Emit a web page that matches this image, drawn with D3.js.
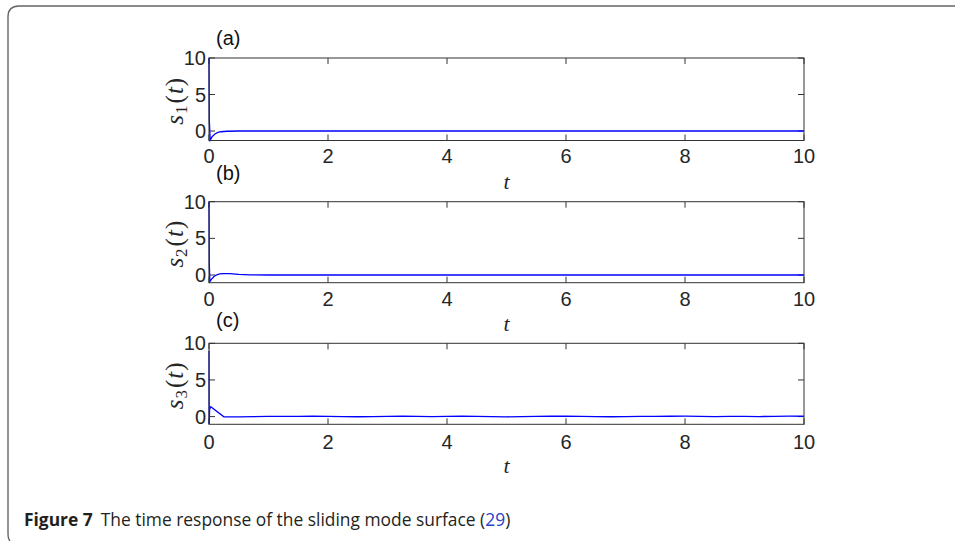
<!DOCTYPE html>
<html>
<head>
<meta charset="utf-8">
<script src="https://cdn.jsdelivr.net/npm/d3@7.9.0/dist/d3.min.js"></script>
<style>
  body { margin: 0; background: #fff; }
  svg { display: block; }
</style>
</head>
<body>
<div id="chart"></div>
<script>
// values
const xTicks = [0, 2, 4, 6, 8, 10];
const yTicks = [0, 5, 10];

const s1Time = [0, 0.005, 0.02, 0.05, 0.1, 0.15, 0.2, 0.3, 0.5, 10];
const s1Value = [10, 1.5, -1.25, -0.8, -0.4, -0.2, -0.1, -0.03, 0, 0];

const s2Time = [0, 0.005, 0.015, 0.04, 0.08, 0.12, 0.18, 0.25, 0.35, 0.5, 0.7, 1, 10];
const s2Value = [10, 1.5, -0.9, -0.6, -0.25, 0, 0.14, 0.19, 0.18, 0.08, 0.02, 0, 0];

const s3Time = [0, 0.003, 0.01, 0.03, 0.25, 0.5, 0.75, 1, 1.25, 1.5, 1.75, 2, 2.25, 2.5, 2.75,
  3, 3.25, 3.5, 3.75, 4, 4.25, 4.5, 4.75, 5, 5.25, 5.5, 5.75, 6, 6.25, 6.5, 6.75,
  7, 7.25, 7.5, 7.75, 8, 8.25, 8.5, 8.75, 9, 9.25, 9.5, 9.75, 10];
const s3Value = [9, -1, 1.0, 1.35, -0.02, -0.04, -0.01, 0.02, 0.04, 0.03, 0.06, 0.04, 0.01, -0.02, 0.01,
  0.03, 0.05, 0.02, 0, 0.03, 0.05, 0.02, -0.01, -0.03, 0, 0.03, 0.05, 0.07, 0.04, 0.01, -0.02,
  0, 0.03, 0.02, 0.05, 0.06, 0.03, 0, 0.02, 0.04, 0.01, 0.03, 0.06, 0.05];

const panels = [
  { tag: '(a)', sub: '1', time: s1Time, value: s1Value, top: 58, bottom: 140.5, ymin: -1.3, tagY: 45, tickY: 163, tY: 189 },
  { tag: '(b)', sub: '2', time: s2Time, value: s2Value, top: 201.7, bottom: 282.7, ymin: -1.05, tagY: 180, tickY: 306, tY: 331 },
  { tag: '(c)', sub: '3', time: s3Time, value: s3Value, top: 343.3, bottom: 424.3, ymin: -1.05, tagY: 327, tickY: 449, tY: 473 }
];

const width = 955;
const height = 541;
const axisColor = '#333';

const svg = d3.select('#chart').append('svg')
  .attr('width', width)
  .attr('height', height);

// page frame (rounded box that runs off the right and bottom)
svg.append('path')
  .attr('d', 'M10,541 Q8,539 8,533 L8,17 Q8,6 19,6 L955,6')
  .attr('fill', 'none')
  .attr('stroke', '#666')
  .attr('stroke-width', 1.4);

const xScale = d3.scaleLinear().domain([0, 10]).range([209, 804]);

panels.forEach(p => drawPanel(p));

function drawPanel(p) {
  const yScale = d3.scaleLinear().domain([p.ymin, 10]).range([p.bottom, p.top]);
  const g = svg.append('g');

  // inward ticks on all four sides
  g.selectAll('.xt').data(xTicks).enter().append('line')
    .attr('x1', d => xScale(d)).attr('x2', d => xScale(d))
    .attr('y1', p.bottom).attr('y2', p.bottom - 6)
    .attr('stroke', axisColor);
  g.selectAll('.xtt').data(xTicks).enter().append('line')
    .attr('x1', d => xScale(d)).attr('x2', d => xScale(d))
    .attr('y1', p.top).attr('y2', p.top + 6)
    .attr('stroke', axisColor);
  g.selectAll('.yt').data(yTicks).enter().append('line')
    .attr('x1', xScale(0)).attr('x2', xScale(0) + 6)
    .attr('y1', d => yScale(d)).attr('y2', d => yScale(d))
    .attr('stroke', axisColor);
  g.selectAll('.ytr').data(yTicks).enter().append('line')
    .attr('x1', xScale(10)).attr('x2', xScale(10) - 6)
    .attr('y1', d => yScale(d)).attr('y2', d => yScale(d))
    .attr('stroke', axisColor);

  // the curve
  const line = d3.line()
    .x((d, i) => xScale(p.time[i]))
    .y(d => yScale(d));

  g.append('path')
    .datum(p.value)
    .attr('d', line)
    .attr('fill', 'none')
    .attr('stroke', '#0000ff')
    .attr('stroke-width', 1.3);

  // box
  g.append('rect')
    .attr('x', xScale(0)).attr('y', p.top)
    .attr('width', xScale(10) - xScale(0))
    .attr('height', p.bottom - p.top)
    .attr('fill', 'none')
    .attr('stroke', axisColor)
    .attr('stroke-width', 1);

  // tick labels
  g.selectAll('.xl').data(xTicks).enter().append('text')
    .attr('x', d => xScale(d))
    .attr('y', p.tickY)
    .attr('text-anchor', 'middle')
    .attr('font-family', 'Liberation Sans, Arial, sans-serif')
    .attr('font-size', 20)
    .attr('fill', '#262626')
    .text(d => d);
  g.selectAll('.yl').data(yTicks).enter().append('text')
    .attr('x', xScale(0) - 3)
    .attr('y', d => yScale(d) + 7)
    .attr('text-anchor', 'end')
    .attr('font-family', 'Liberation Sans, Arial, sans-serif')
    .attr('font-size', 20)
    .attr('fill', '#262626')
    .text(d => d);

  // panel tag
  g.append('text')
    .attr('x', 216)
    .attr('y', p.tagY)
    .attr('font-family', 'Liberation Sans, Arial, sans-serif')
    .attr('font-size', 20)
    .attr('fill', '#111')
    .text(p.tag);

  // x label
  g.append('text')
    .attr('x', (xScale(0) + xScale(10)) / 2)
    .attr('y', p.tY)
    .attr('text-anchor', 'middle')
    .attr('font-family', 'Liberation Serif, serif')
    .attr('font-style', 'italic')
    .attr('font-size', 22)
    .attr('fill', '#262626')
    .text('t');

  // y label  s_n(t)
  const cy = (p.top + p.bottom) / 2 + 2;
  const yl = g.append('text')
    .attr('transform', `translate(183, ${cy}) rotate(-90)`)
    .attr('text-anchor', 'middle')
    .attr('font-family', 'Liberation Serif, serif')
    .attr('font-size', 25)
    .attr('fill', '#262626');
  yl.append('tspan').attr('font-style', 'italic').text('s');
  yl.append('tspan').attr('font-size', 17).attr('dy', 4).attr('dx', 1).text(p.sub);
  yl.append('tspan').attr('dy', -4).attr('dx', 2).text('(');
  yl.append('tspan').attr('font-style', 'italic').attr('dx', 1).text('t');
  yl.append('tspan').attr('dx', 1).text(')');
}

// caption
const cap = svg.append('text')
  .attr('x', 24)
  .attr('y', 526)
  .attr('font-family', 'Open Sans, Noto Sans, sans-serif')
  .attr('font-size', 17.4)
  .attr('fill', '#231f20');
cap.append('tspan').attr('font-weight', 'bold').text('Figure 7');
cap.append('tspan').attr('dx', 8).text('The time response of the sliding mode surface (');
cap.append('tspan').attr('fill', '#2b3fd0').text('29');
cap.append('tspan').text(')');
</script>
</body>
</html>
